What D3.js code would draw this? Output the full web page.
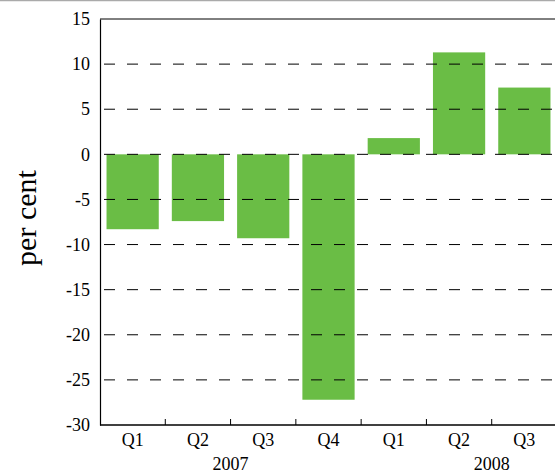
<!DOCTYPE html>
<html><head><meta charset="utf-8">
<script src="https://cdn.jsdelivr.net/npm/d3@7"></script>
<style>body{margin:0;background:#fff}svg{display:block}text{font-family:"Liberation Serif",serif !important;fill:#000}</style>
</head><body>
<script>
const categories = ["Q1","Q2","Q3","Q4","Q1","Q2","Q3"];
const keys = ["2007Q1","2007Q2","2007Q3","2007Q4","2008Q1","2008Q2","2008Q3"];
const values = [-8.3,-7.4,-9.3,-27.2,1.8,11.3,7.4];
const years = ["2007","2008"];
const yTicks = [15,10,5,0,-5,-10,-15,-20,-25,-30];

(function(){
const W=555,H=473;
const svg=d3.select("body").append("svg").attr("width",W).attr("height",H);
const mLeft=100,mTop=19,mBottom=425,mRight=557;
const x=d3.scaleBand().domain(keys).range([mLeft,mRight]).paddingInner(0.2).paddingOuter(0.1);
const y=d3.scaleLinear().domain([-30,15]).range([mBottom,mTop]);

svg.append("line").attr("x1",0).attr("x2",W).attr("y1",0.5).attr("y2",0.5).attr("stroke","#aaa").attr("stroke-width",1.5);

svg.append("g").selectAll("rect").data(values).join("rect")
 .attr("x",(d,i)=>x(keys[i])).attr("width",x.bandwidth())
 .attr("y",d=>y(Math.max(0,d))).attr("height",d=>Math.abs(y(d)-y(0)))
 .attr("fill","#6abd45");

// gridlines
svg.append("g").selectAll("line").data(yTicks.filter(t=>t!==-30)).join("line")
 .attr("x1",mLeft).attr("x2",W).attr("y1",d=>y(d)).attr("y2",d=>y(d))
 .attr("stroke","#000").attr("stroke-width",1).attr("stroke-dasharray",d=>d===15?null:"11,12")
 .attr("stroke-dashoffset",-4);

// y axis
const ya=svg.append("g").attr("transform",`translate(${mLeft},0)`)
 .call(d3.axisLeft(y).tickValues(yTicks).tickSize(0).tickPadding(10).tickFormat(d=>String(d)))
 .attr("font-family","Liberation Serif").attr("font-size",18);
ya.select(".domain").attr("stroke","#000").attr("stroke-width",1.2);

// x axis
const xa=svg.append("g").attr("transform",`translate(0,${mBottom})`)
 .call(d3.axisBottom(x).tickSize(0).tickPadding(8).tickFormat((d,i)=>categories[i]))
 .attr("font-family","Liberation Serif").attr("font-size",18);
xa.select(".domain").remove();
svg.append("line").attr("x1",mLeft).attr("x2",W).attr("y1",mBottom).attr("y2",mBottom).attr("stroke","#000").attr("stroke-width",1.5);
const step=x.step();
const boundaries=keys.slice(1).map(k=>x(k)-step*x.paddingInner()/2);
svg.append("g").selectAll("line").data(boundaries).join("line")
 .attr("x1",d=>d).attr("x2",d=>d).attr("y1",mBottom).attr("y2",mBottom-6).attr("stroke","#000");

// year labels
const yearX=[ (mLeft + boundaries[3])/2, boundaries[5] ];
svg.append("g").selectAll("text").data(years).join("text")
 .attr("x",(d,i)=>yearX[i]).attr("y",470).attr("text-anchor","middle").style("font-size","18px").text(d=>d);

svg.append("text").attr("transform","translate(36,218) rotate(-90)").attr("text-anchor","middle")
 .style("font-size","30px").text("per cent");
})();
</script>
</body></html>
